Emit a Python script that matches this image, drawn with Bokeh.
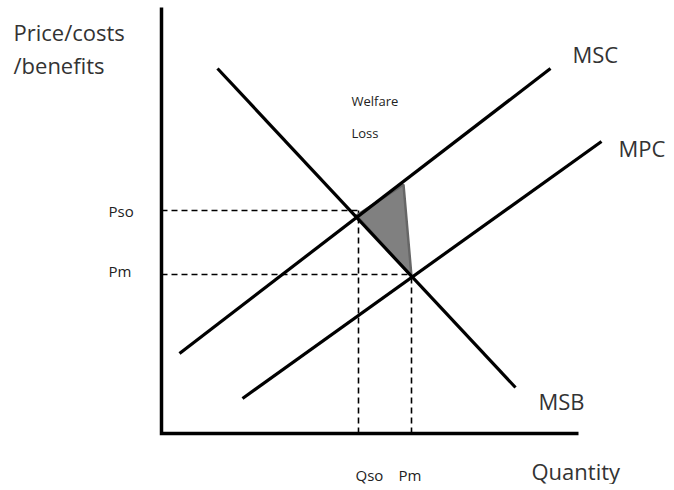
from bokeh.plotting import figure
from bokeh.models import Range1d
from bokeh.core.properties import value
from bokeh.embed import file_html
from bokeh.resources import INLINE

# Diagram coordinates (abstract units, origin at bottom-left of page)
axis_x = [161, 161, 578]
axis_y = [483, 57, 57]

msb_x = [217, 515]
msb_y = [422, 103]
msc_x = [179, 550]
msc_y = [137, 422]
mpc_x = [242, 601]
mpc_y = [92, 349]

# welfare loss triangle
tri_x = [356, 403, 411]
tri_y = [275, 306, 214]

# equilibrium levels
axis_origin_x = 161
axis_origin_y = 57
q_so, q_m = 358, 411
p_so, p_m = 280, 216

# labels
curve_labels = ["MSC", "MPC", "MSB"]
curve_label_x = [572, 618, 538]
curve_label_y = [437, 343, 90]

tick_labels = ["Pso", "Pm", "Qso", "Pm"]
tick_label_x = [108, 108, 355, 398]
tick_label_y = [280, 220, 16, 16]

p = figure(width=668, height=484, output_backend="svg", toolbar_location=None,
           x_range=Range1d(0, 668), y_range=Range1d(6, 490),
           min_border=0, outline_line_color=None)
p.xaxis.visible = False
p.yaxis.visible = False
p.xgrid.visible = False
p.ygrid.visible = False
p.background_fill_color = "white"
p.border_fill_color = "white"

font = value("Open Sans")
txt_color = "#333333"

# dashed guides
dash = "6 4"
p.line([axis_origin_x, q_so], [p_so, p_so], line_color="black", line_width=1.6, line_dash=dash)
p.line([axis_origin_x, q_m], [p_m, p_m], line_color="black", line_width=1.6, line_dash=dash)
p.line([q_so, q_so], [axis_origin_y, p_so], line_color="black", line_width=1.6, line_dash=dash)
p.line([q_m, q_m], [axis_origin_y, p_m], line_color="black", line_width=1.6, line_dash=dash)

# welfare loss
p.patch(tri_x, tri_y, fill_color="#808080", line_color="#666666", line_width=2.5)

# curves
for xs, ys in [(msb_x, msb_y), (msc_x, msc_y), (mpc_x, mpc_y)]:
    p.line(xs, ys, line_color="black", line_width=3.2)

# axes
p.line(axis_x, axis_y, line_color="black", line_width=3.5, line_join="miter")

# text
p.text([13, 13], [459, 426], text=["Price/costs", "/benefits"], text_font=font,
       text_font_size="22px", text_color=txt_color, text_baseline="middle")
p.text(curve_label_x, curve_label_y, text=curve_labels, text_font=font,
       text_font_size="22px", text_color=txt_color, text_baseline="middle")
p.text([531], [20], text=["Quantity"], text_font=font,
       text_font_size="22px", text_color=txt_color, text_baseline="middle")
p.text(tick_label_x, tick_label_y, text=tick_labels, text_font=font,
       text_font_size="15px", text_color="#222222", text_baseline="middle")
p.text([351, 351], [390, 358], text=["Welfare", "Loss"], text_font=font,
       text_font_size="13px", text_color="#222222", text_baseline="middle")

open("out.html", "w").write(file_html(p, INLINE))
